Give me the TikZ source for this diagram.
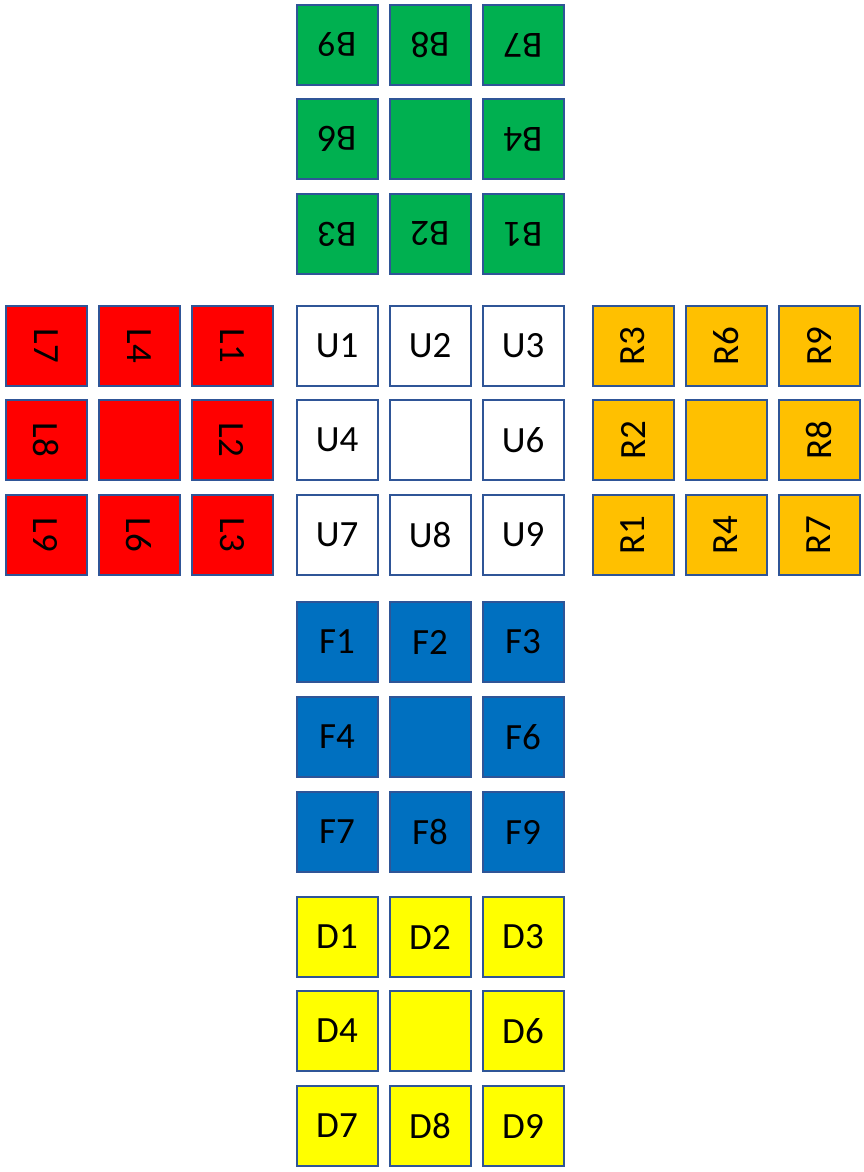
\documentclass[tikz,border=0pt]{standalone}
\usepackage{fontspec}
\setmainfont{Carlito}
\definecolor{edgeblue}{HTML}{2F5597}
\definecolor{cgreen}{HTML}{00B050}
\definecolor{cred}{HTML}{FF0000}
\definecolor{corange}{HTML}{FFC000}
\definecolor{cblue}{HTML}{0070C0}
\definecolor{cyellow}{HTML}{FFFF00}
\tikzset{
  cell/.style={draw=edgeblue, line width=2pt, minimum width=81pt, minimum height=80pt, inner sep=0pt, font=\fontsize{37}{42}\selectfont, text=black},
  gface/.style={cell, fill=cgreen},
  lface/.style={cell, fill=cred},
  uface/.style={cell, fill=white},
  rface/.style={cell, fill=corange},
  fface/.style={cell, fill=cblue},
  dface/.style={cell, fill=cyellow},
}
\begin{document}
\begin{tikzpicture}[x=1pt,y=-1pt]
\useasboundingbox (0,0) rectangle (864,1172);
% Back face (text upside down)
\foreach \n/\t/\x/\y in {B9/B9/337/45, B8/B8/430/45, B7/B7/523/45,
  B6/B6/337/139, B5//430/139, B4/B4/523/139,
  B3/B3/337/234, B2/B2/430/234, B1/B1/523/234}
  \node[gface] (\n) at (\x,\y) {\rotatebox{180}{\t}};
% Left face (text rotated clockwise)
\foreach \n/\t/\x/\y in {L7/L7/46/346, L4/L4/139/346, L1/L1/232/346,
  L8/L8/46/440, L5//139/440, L2/L2/232/440,
  L9/L9/46/535, L6/L6/139/535, L3/L3/232/535}
  \node[lface] (\n) at (\x,\y) {\rotatebox{-90}{\t}};
% Up face
\foreach \n/\t/\x/\y in {U1/U1/337/346, U2/U2/430/346, U3/U3/523/346,
  U4/U4/337/440, U5//430/440, U6/U6/523/440,
  U7/U7/337/535, U8/U8/430/535, U9/U9/523/535}
  \node[uface] (\n) at (\x,\y) {\t};
% Right face (text rotated counter-clockwise)
\foreach \n/\t/\x/\y in {R3/R3/633/346, R6/R6/726/346, R9/R9/819/346,
  R2/R2/633/440, R5//726/440, R8/R8/819/440,
  R1/R1/633/535, R4/R4/726/535, R7/R7/819/535}
  \node[rface] (\n) at (\x,\y) {\rotatebox{90}{\t}};
% Front face
\foreach \n/\t/\x/\y in {F1/F1/337/642, F2/F2/430/642, F3/F3/523/642,
  F4/F4/337/737, F5//430/737, F6/F6/523/737,
  F7/F7/337/832, F8/F8/430/832, F9/F9/523/832}
  \node[fface] (\n) at (\x,\y) {\t};
% Down face
\foreach \n/\t/\x/\y in {D1/D1/337/937, D2/D2/430/937, D3/D3/523/937,
  D4/D4/337/1031, D5//430/1031, D6/D6/523/1031,
  D7/D7/337/1126, D8/D8/430/1126, D9/D9/523/1126}
  \node[dface] (\n) at (\x,\y) {\t};
\end{tikzpicture}
\end{document}
